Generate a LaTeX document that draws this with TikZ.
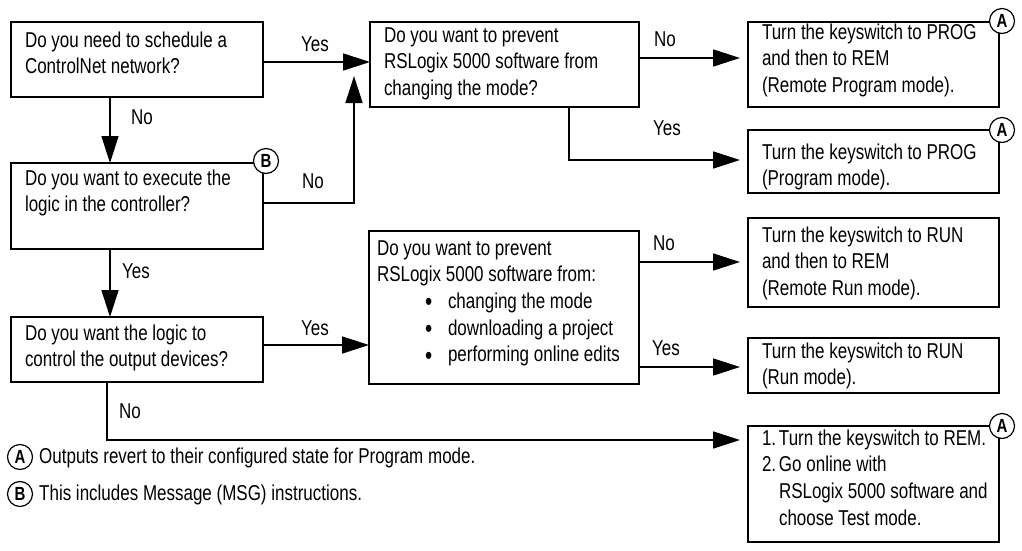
\documentclass[tikz,border=0pt]{standalone}
\usepackage{fontspec}
\setmainfont[FakeStretch=0.79]{Liberation Sans}
\usetikzlibrary{arrows.meta}
\newcommand\bxt[5]{\vbox to #2pt{\hsize=#1pt\leftskip=#3pt\rightskip=0pt plus 1fil\parindent=0pt\parfillskip=0pt plus 1fil\relax\vskip\dimexpr#4pt-18pt\relax\noindent\rule{0pt}{18pt}#5\par\vss}}
\newcommand\bul{\makebox[23pt][l]{\raisebox{-2.5pt}{\fontsize{26}{26}\selectfont\textbullet}}}
\tikzset{
  every node/.style={font=\fontsize{21.5}{26.7}\selectfont},
  box/.style={draw, line width=1.6pt, inner sep=0pt, outer sep=0pt, anchor=north west},
  lab/.style={anchor=base, inner sep=0pt},
  conn/.style={line width=1.6pt, -{Triangle[length=27pt,width=17pt]}},
  circ/.style={circle, draw, line width=1.2pt, fill=white, minimum size=25pt, inner sep=0pt, font=\fontsize{19}{20}\selectfont\bfseries},
}
\begin{document}
\begin{tikzpicture}[x=1pt,y=-1pt]
\useasboundingbox (0,0) rectangle (1022,551);
% left column
\node[box] (b1) at (11,22) {\bxt{252}{75}{14}{25}{Do you need to schedule a\\ControlNet network?}};
\node[box] (b2) at (11,163) {\bxt{252}{86}{14}{22}{Do you want to execute the\\logic in the controller?}};
\node[box] (b3) at (11,317) {\bxt{252}{65}{14}{23}{Do you want the logic to\\control the output devices?}};
% middle column
\node[box] (b4) at (370,22) {\bxt{269}{85}{14}{20}{Do you want to prevent\\RSLogix 5000 software from\\changing the mode?}};
\node[box] (b5) at (369,231) {\bxt{270}{153}{8}{24}{Do you want to prevent\\RSLogix 5000 software from:\\\hspace*{48pt}\bul changing the mode\\\hspace*{48pt}\bul downloading a project\\\hspace*{48pt}\bul performing online edits}};
% right column
\node[box] (r1) at (748,22) {\bxt{251}{85}{14}{17}{Turn the keyswitch to PROG\\and then to REM\\(Remote Program mode).}};
\node[box] (r2) at (748,130) {\bxt{251}{63}{14}{29}{Turn the keyswitch to PROG\\(Program mode).}};
\node[box] (r3) at (748,218) {\bxt{251}{89}{14}{24}{Turn the keyswitch to RUN\\and then to REM\\(Remote Run mode).}};
\node[box] (r4) at (748,338) {\bxt{251}{55}{14}{20}{Turn the keyswitch to RUN\\(Run mode).}};
\node[box] (r5) at (748,426) {\bxt{251}{116}{14}{19}{\makebox[17pt][l]{1.}Turn the keyswitch to REM.\\\makebox[17pt][l]{2.}Go online with\\\hspace*{17pt}RSLogix 5000 software and\\\hspace*{17pt}choose Test mode.}};
% connectors
\coordinate (j1) at (354,76);
\draw[conn] (b1.east |- 0,62) -- (b4.west |- 0,62);
\node[lab] (l1) at (315,52) {Yes};
\draw[conn] (b1.south -| 110,0) -- (b2.north -| 110,0);
\node[lab] (l2) at (142,124) {No};
\draw[conn] (b2.east |- 0,203) -| (j1);
\node[lab] (l3) at (313,188) {No};
\draw[conn] (b2.south -| 110,0) -- (b3.north -| 110,0);
\node[lab] (l4) at (136,278) {Yes};
\draw[conn] (b3.east |- 0,345) -- (b5.west |- 0,345);
\node[lab] (l5) at (315,335) {Yes};
\draw[conn, shorten >=8pt] (b3.south -| 107,0) |- (r5.west |- 0,440);
\node[lab] (l6) at (130,418) {No};
\draw[conn, shorten >=8pt] (b4.east |- 0,58) -- (r1.west |- 0,58);
\node[lab] (l7) at (665,47) {No};
\draw[conn, shorten >=8pt] (b4.south -| 569,0) |- (r2.west |- 0,160);
\node[lab] (l8) at (667,135) {Yes};
\draw[conn, shorten >=8pt] (b5.east |- 0,262) -- (r3.west |- 0,262);
\node[lab] (l9) at (664,250) {No};
\draw[conn, shorten >=8pt] (b5.east |- 0,367) -- (r4.west |- 0,367);
\node[lab] (l10) at (666,355) {Yes};
% markers
\node[circ] (cA1) at (1002,21) {A};
\node[circ] (cA2) at (1002,130) {A};
\node[circ] (cA3) at (1002,426) {A};
\node[circ] (cB1) at (266,161) {B};
% legend
\node[circ] (lgA) at (20,457) {A};
\node[anchor=base west, inner sep=0pt] (lgAt) at (39,463) {Outputs revert to their configured state for Program mode.};
\node[circ] (lgB) at (20,494) {B};
\node[anchor=base west, inner sep=0pt] (lgBt) at (39,500) {This includes Message (MSG) instructions.};
\end{tikzpicture}
\end{document}
